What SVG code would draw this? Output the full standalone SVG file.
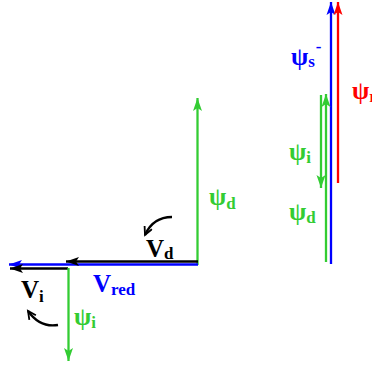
<svg xmlns="http://www.w3.org/2000/svg" width="372" height="368" viewBox="0 0 372 368">
<defs>
<style>
.g{stroke:#33cc33;stroke-width:2.3;fill:none}
.b{stroke:#0000ff;stroke-width:2.3;fill:none}
.r{stroke:#ff0000;stroke-width:2.3;fill:none}
.k{stroke:#000;stroke-width:2.3;fill:none}
.t{font-family:"Liberation Serif","DejaVu Serif",serif;font-weight:bold}
.big{font-size:25px}
.psi{font-size:25px}
.sub{font-size:17px}
</style>
<marker id="ag" markerWidth="14" markerHeight="11" refX="13" refY="5.5" orient="auto" markerUnits="userSpaceOnUse"><path d="M0,1 L13,5.5 L0,10 L3,5.5 Z" fill="#33cc33"/></marker>
<marker id="ab" markerWidth="14" markerHeight="11" refX="13" refY="5.5" orient="auto" markerUnits="userSpaceOnUse"><path d="M0,1 L13,5.5 L0,10 L3,5.5 Z" fill="#0000ff"/></marker>
<marker id="ar" markerWidth="14" markerHeight="11" refX="13" refY="5.5" orient="auto" markerUnits="userSpaceOnUse"><path d="M0,1 L13,5.5 L0,10 L3,5.5 Z" fill="#ff0000"/></marker>
<marker id="ak" markerWidth="14" markerHeight="11" refX="13" refY="5.5" orient="auto" markerUnits="userSpaceOnUse"><path d="M0,1 L13,5.5 L0,10 L3,5.5 Z" fill="#000"/></marker>
<marker id="ac" markerWidth="12" markerHeight="10" refX="9" refY="5" orient="auto" markerUnits="userSpaceOnUse"><path d="M1,1 L9,5 L1,9" fill="none" stroke="#000" stroke-width="1.8"/></marker>
</defs>
<g id="connectors">
<line class="g" x1="197.5" y1="265" x2="197.5" y2="98" marker-end="url(#ag)"/>
<line class="b" x1="198" y1="264.5" x2="9" y2="264.5" marker-end="url(#ab)"/>
<line class="k" x1="198" y1="261.5" x2="66" y2="261.5" marker-end="url(#ak)"/>
<line class="k" x1="68" y1="268.5" x2="10" y2="268.5" marker-end="url(#ak)"/>
<line class="g" x1="68.5" y1="268" x2="68.5" y2="361" marker-end="url(#ag)"/>
<path class="k" stroke-width="1.8" d="M172,217 Q153,217 145,235" marker-end="url(#ac)"/>
<path class="k" stroke-width="1.8" d="M58,325 Q40,328 28,311" marker-end="url(#ac)"/>
<line class="b" x1="331" y1="264" x2="331" y2="2" marker-end="url(#ab)"/>
<line class="r" x1="338" y1="183" x2="338" y2="2" marker-end="url(#ar)"/>
<line class="g" x1="326" y1="262" x2="326" y2="94" marker-end="url(#ag)"/>
<line class="g" x1="321" y1="95" x2="321" y2="188" marker-end="url(#ag)"/>
</g>
<g id="label-Vd"><text class="t big" x="146" y="257" fill="#000">V<tspan class="sub" dy="2">d</tspan></text></g>
<g id="label-Vred"><text class="t big" x="93" y="292" fill="#0000ff">V<tspan class="sub" dy="3">red</tspan></text></g>
<g id="label-Vi"><text class="t big" x="21" y="298" fill="#000">V<tspan class="sub" dy="4">i</tspan></text></g>
<g id="label-psii-left"><text class="t psi" x="74" y="325" fill="#33cc33">ψ<tspan class="sub" dy="3">i</tspan></text></g>
<g id="label-psid-left"><text class="t psi" x="209" y="205" fill="#33cc33">ψ<tspan class="sub" dy="4">d</tspan></text></g>
<g id="label-psis"><text class="t psi" x="291" y="65" fill="#0000ff">ψ<tspan class="sub" dy="2">s</tspan><tspan class="sub" dx="1" dy="-15">-</tspan></text></g>
<g id="label-psir"><text class="t psi" x="352" y="99" fill="#ff0000">ψ<tspan class="sub" dy="3">r</tspan></text></g>
<g id="label-psii-right"><text class="t psi" x="289" y="160" fill="#33cc33">ψ<tspan class="sub" dy="3">i</tspan></text></g>
<g id="label-psid-right"><text class="t psi" x="289" y="220" fill="#33cc33">ψ<tspan class="sub" dy="3">d</tspan></text></g>
</svg>
